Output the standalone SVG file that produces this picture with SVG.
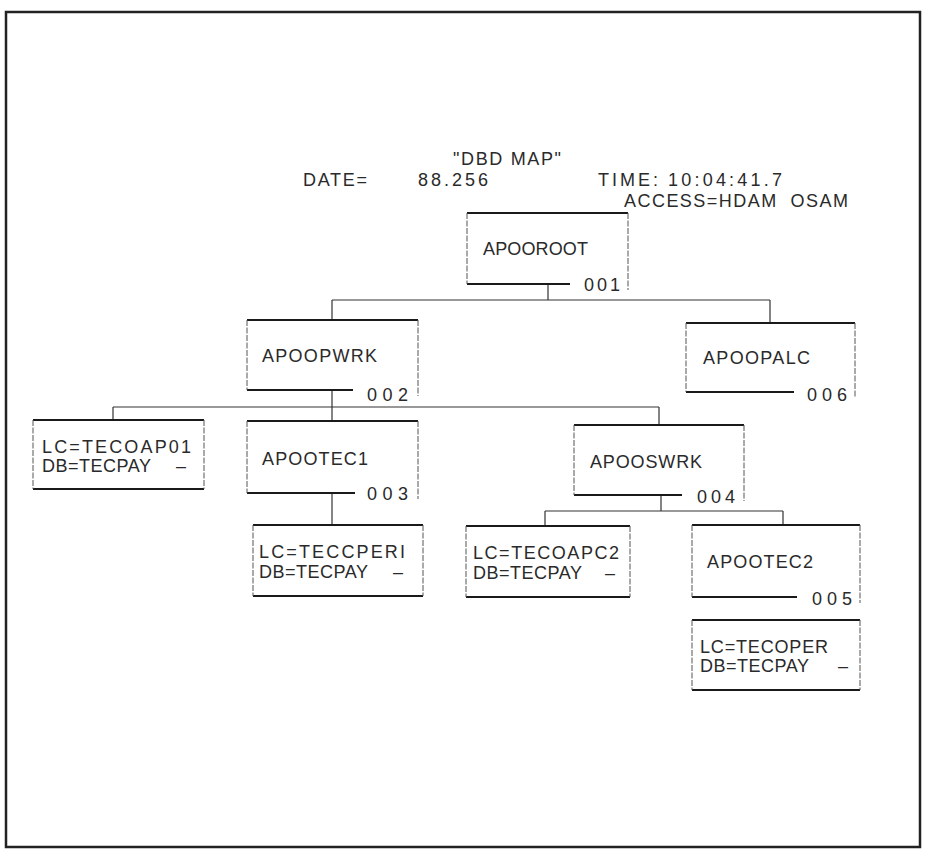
<svg xmlns="http://www.w3.org/2000/svg" width="925" height="850" viewBox="0 0 925 850">
<style>
text{font-family:"Liberation Sans",Arial,sans-serif;font-size:18px;fill:#2a2a2a}
.edge{stroke:#1a1a1a;stroke-width:2;fill:none}
.side{stroke:#555;stroke-width:1;fill:none;stroke-dasharray:6 1.5}
.conn{stroke:#333;stroke-width:1.2;fill:none}
.frame{fill:#fff;stroke:#222;stroke-width:2.5}
</style>
<rect class="frame" x="6" y="12" width="914" height="835"/>
<g id="header">
<text x="453" y="165" textLength="108">"DBD MAP"</text>
<text x="303" y="186" textLength="64">DATE=</text>
<text x="418" y="186" textLength="70">88.256</text>
<text x="598" y="186" textLength="60">TIME:</text>
<text x="668" y="186" textLength="114">10:04:41.7</text>
<text x="624" y="207" textLength="224" xml:space="preserve">ACCESS=HDAM  OSAM</text>
</g>
<g id="connectors">
<path class="conn" d="M548 284V300M332 300H770M332 300V320M770 300V323"/>
<path class="conn" d="M332 389V407M113 407H659M113 407V420M332 407V421M659 407V425"/>
<path class="conn" d="M332 493V525"/>
<path class="conn" d="M661 495V511M545 511H783M545 511V526M783 511V525"/>
</g>
<g id="APOOROOT">
<path class="edge" d="M467 213H628M467 284H570"/>
<path class="side" d="M467 213V284M628 213V290"/>
<text x="483" y="255" textLength="105">APOOROOT</text>
<text x="584" y="291" textLength="36">001</text>
</g>
<g id="APOOPWRK">
<path class="edge" d="M247 320H418M247 390H353"/>
<path class="side" d="M247 320V390M418 320V396"/>
<text x="262" y="362" textLength="115">APOOPWRK</text>
<text x="367" y="401" textLength="41">002</text>
</g>
<g id="APOOPALC">
<path class="edge" d="M686 323H855M686 392H794"/>
<path class="side" d="M686 323V392M855 323V398"/>
<text x="703" y="364" textLength="107">APOOPALC</text>
<text x="807" y="401" textLength="40">006</text>
</g>
<g id="LC_TECOAP01">
<path class="edge" d="M33 420H204M33 489H204"/>
<path class="side" d="M33 420V489M204 420V489"/>
<text x="42" y="453" textLength="149">LC=TECOAP01</text>
<text x="42" y="472"><tspan textLength="109">DB=TECPAY</tspan><tspan x="176">–</tspan></text>
</g>
<g id="APOOTEC1">
<path class="edge" d="M247 421H418M247 493H355"/>
<path class="side" d="M247 421V493M418 421V499"/>
<text x="262" y="465" textLength="106">APOOTEC1</text>
<text x="367" y="500" textLength="41">003</text>
</g>
<g id="APOOSWRK">
<path class="edge" d="M574 425H744M574 495H682"/>
<path class="side" d="M574 425V495M744 425V501"/>
<text x="590" y="468" textLength="112">APOOSWRK</text>
<text x="697" y="503" textLength="38">004</text>
</g>
<g id="LC_TECCPERI">
<path class="edge" d="M253 525H423M253 596H423"/>
<path class="side" d="M253 525V596M423 525V596"/>
<text x="259" y="558" textLength="146">LC=TECCPERI</text>
<text x="259" y="578"><tspan textLength="109">DB=TECPAY</tspan><tspan x="393">–</tspan></text>
</g>
<g id="LC_TECOAPC2">
<path class="edge" d="M466 526H630M466 597H630"/>
<path class="side" d="M466 526V597M630 526V597"/>
<text x="473" y="559" textLength="146">LC=TECOAPC2</text>
<text x="473" y="579"><tspan textLength="109">DB=TECPAY</tspan><tspan x="605">–</tspan></text>
</g>
<g id="APOOTEC2">
<path class="edge" d="M692 525H860M692 597H797"/>
<path class="side" d="M692 525V597M860 525V603"/>
<text x="707" y="568" textLength="106">APOOTEC2</text>
<text x="812" y="605" textLength="40">005</text>
</g>
<g id="LC_TECOPER">
<path class="edge" d="M692 620H860M692 690H860"/>
<path class="side" d="M692 620V690M860 620V690"/>
<text x="700" y="653" textLength="128">LC=TECOPER</text>
<text x="700" y="672"><tspan textLength="109">DB=TECPAY</tspan><tspan x="838">–</tspan></text>
</g>
</svg>
